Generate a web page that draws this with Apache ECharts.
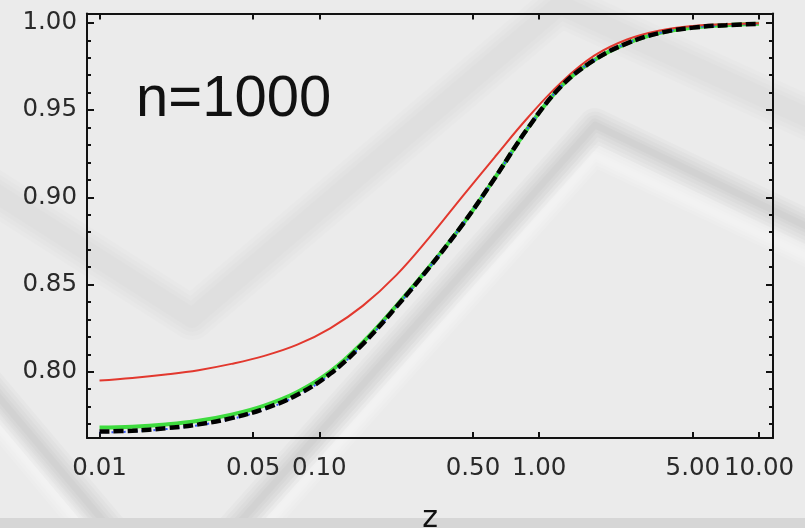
<!DOCTYPE html>
<html>
<head>
<meta charset="utf-8">
<script src="https://cdn.jsdelivr.net/npm/echarts@6/dist/echarts.min.js"></script>
<style>
  html, body { margin: 0; padding: 0; background: #ebebeb; }
  #chart { width: 805px; height: 528px; }
</style>
</head>
<body>
<div id="chart"></div>
<script>
// Sample points along z (log scale) and the four curves evaluated there
const zValues = [0.01, 0.0141, 0.02, 0.0282, 0.0398, 0.0562, 0.0794, 0.112, 0.158, 0.224, 0.316, 0.447, 0.631, 0.891, 1.26, 1.78, 2.51, 3.55, 5.01, 7.08, 10];
const redValues = [0.7949, 0.7964, 0.7984, 0.8009, 0.8045, 0.8091, 0.8155, 0.8249, 0.8379, 0.8554, 0.8769, 0.9004, 0.9234, 0.9459, 0.9659, 0.9812, 0.9905, 0.9957, 0.9983, 0.9993, 0.9998];
const greenValues = [0.7680, 0.7685, 0.7698, 0.7719, 0.7754, 0.7806, 0.7884, 0.8001, 0.8170, 0.8378, 0.8600, 0.8842, 0.9114, 0.9399, 0.9637, 0.9787, 0.9883, 0.9943, 0.9973, 0.9987, 0.9995];
const blueValues = [0.7652, 0.7657, 0.7671, 0.7693, 0.7729, 0.7783, 0.7864, 0.7985, 0.8158, 0.8371, 0.8597, 0.8842, 0.9114, 0.9399, 0.9637, 0.9787, 0.9883, 0.9943, 0.9973, 0.9987, 0.9995];
const blackValues = [0.7657, 0.7662, 0.7676, 0.7698, 0.7734, 0.7788, 0.7868, 0.7988, 0.8160, 0.8372, 0.8597, 0.8842, 0.9114, 0.9399, 0.9637, 0.9787, 0.9883, 0.9943, 0.9973, 0.9987, 0.9995];

// Axis ticks and labels
const xTickValues = [0.01, 0.05, 0.1, 0.5, 1, 5, 10];
const yTickValues = [0.80, 0.85, 0.90, 0.95, 1.00];
const yMinorTickValues = [0.77, 0.78, 0.79, 0.81, 0.82, 0.83, 0.84, 0.86, 0.87, 0.88, 0.89, 0.91, 0.92, 0.93, 0.94, 0.96, 0.97, 0.98, 0.99];
const xAxisTitle = 'z';
const annotationText = 'n=1000';

const xRange = [0.00877, 11.58];
const yRange = [0.762, 1.0054];

const frameColor = '#111';
const labelFont = { fontFamily: 'DejaVu Sans', fontSize: 24.5, color: '#2a2a2a' };

function pairs(values) {
  return zValues.map((z, i) => [z, values[i]]);
}

function xAxisDef(position, withLabels) {
  return {
    type: 'log',
    logBase: 10,
    position: position,
    min: xRange[0],
    max: xRange[1],
    name: withLabels ? xAxisTitle : '',
    nameLocation: 'middle',
    nameGap: 66,
    nameTextStyle: { fontFamily: 'DejaVu Sans', fontSize: 30, color: '#111' },
    axisLine: { show: true, onZero: false, lineStyle: { color: frameColor, width: 2 } },
    axisTick: { show: true, inside: true, length: 6, customValues: xTickValues, lineStyle: { color: frameColor, width: 2 } },
    axisLabel: withLabels ? Object.assign({
      show: true, margin: 18, customValues: xTickValues,
      formatter: (v) => Number(v).toFixed(2)
    }, labelFont) : { show: false },
    splitLine: { show: false },
    minorTick: { show: false }
  };
}

function yAxisDef(position, major, withLabels) {
  return {
    type: 'value',
    position: position,
    min: yRange[0],
    max: yRange[1],
    axisLine: { show: major, onZero: false, lineStyle: { color: frameColor, width: 2 } },
    axisTick: {
      show: true, inside: true, length: major ? 7 : 4,
      customValues: major ? yTickValues : yMinorTickValues,
      lineStyle: { color: frameColor, width: 2 }
    },
    axisLabel: withLabels ? Object.assign({
      show: true, margin: 10, customValues: yTickValues, padding: [7, 0, 0, 0],
      formatter: (v) => Number(v).toFixed(2)
    }, labelFont) : { show: false },
    splitLine: { show: false }
  };
}

// Soft-edged backdrop band: stacked strokes of shrinking width
function softBand(points, rgb, alphaPerLayer, widths, z) {
  return widths.map((w, i) => ({
    type: 'polyline', z: z + i * 0.01, silent: true,
    shape: { points: points },
    style: { stroke: 'rgba(' + rgb + ',' + alphaPerLayer + ')', fill: null, lineWidth: w, lineJoin: 'round' }
  }));
}

const upperZigzag = [[-20, 183], [192, 318], [560, 5], [830, 128]];
const lowerZigzag = [[-100, 280], [170, 600], [595, 125], [900, 271]];
const lowerHighlight = [[-100, 308], [170, 632], [595, 156], [900, 300]];

const chart = echarts.init(document.getElementById('chart'), null, { renderer: 'canvas' });

chart.setOption({
  animation: false,
  backgroundColor: '#ebebeb',
  grid: { left: 87, right: 32, top: 13.5, bottom: 90, outerBoundsMode: 'none', containLabel: false },
  xAxis: [xAxisDef('bottom', true), xAxisDef('top', false)],
  yAxis: [
    yAxisDef('left', true, true),
    yAxisDef('left', false, false),
    yAxisDef('right', true, false),
    yAxisDef('right', false, false)
  ],
  graphic: {
    elements: []
      .concat(softBand(upperZigzag, '0,0,0', 0.01, [44, 36, 28, 20], -30))
      .concat(softBand(lowerHighlight, '255,255,255', 0.12, [22, 16, 10, 5], -25))
      .concat(softBand(lowerZigzag, '0,0,0', 0.02, [34, 27, 20, 13, 7], -20))
      .concat([
        // footer strip
        {
          type: 'rect', z: -5, silent: true,
          shape: { x: 0, y: 518, width: 805, height: 10 },
          style: { fill: '#d6d6d6' }
        },
        {
          type: 'text', z: 10, silent: true,
          x: 136, y: 100,
          style: { text: annotationText, font: '58px "Liberation Sans"', fill: '#111', verticalAlign: 'middle', align: 'left' }
        }
      ])
  },
  series: [
    {
      name: 'green', type: 'line', xAxisIndex: 0, yAxisIndex: 0,
      data: pairs(greenValues), showSymbol: false, smooth: 0.4, z: 2,
      lineStyle: { color: '#3fdc3f', width: 4 }
    },
    {
      name: 'blue', type: 'line', xAxisIndex: 0, yAxisIndex: 0,
      data: pairs(blueValues), showSymbol: false, smooth: 0.4, z: 3,
      lineStyle: { color: '#3355ff', width: 2, type: [2, 4] }
    },
    {
      name: 'red', type: 'line', xAxisIndex: 0, yAxisIndex: 0,
      data: pairs(redValues), showSymbol: false, smooth: 0.4, z: 4,
      lineStyle: { color: '#e2382e', width: 2 }
    },
    {
      name: 'black', type: 'line', xAxisIndex: 0, yAxisIndex: 0,
      data: pairs(blackValues), showSymbol: false, smooth: 0.4, z: 5,
      lineStyle: { color: '#000', width: 4.5, type: [10, 4] }
    }
  ]
});
</script>
</body>
</html>
